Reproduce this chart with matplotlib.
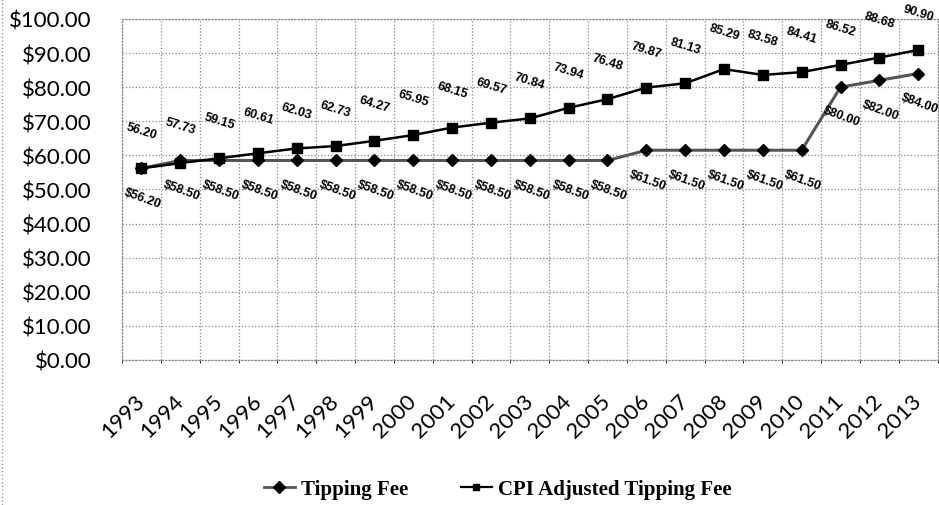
import matplotlib
matplotlib.use("Agg")
import matplotlib.pyplot as plt
from matplotlib.lines import Line2D

years = [str(y) for y in range(1993, 2014)]
tipping_fee = [56.20, 58.50, 58.50, 58.50, 58.50, 58.50, 58.50, 58.50, 58.50, 58.50,
               58.50, 58.50, 58.50, 61.50, 61.50, 61.50, 61.50, 61.50, 80.00, 82.00, 84.00]
cpi_adjusted = [56.20, 57.73, 59.15, 60.61, 62.03, 62.73, 64.27, 65.95, 68.15, 69.57,
                70.84, 73.94, 76.48, 79.87, 81.13, 85.29, 83.58, 84.41, 86.52, 88.68, 90.90]
y_ticks = list(range(0, 101, 10))

fig = plt.figure(figsize=(9.39, 5.06), dpi=100)
ax = fig.add_axes([0.130, 0.2866, 0.8685, 0.674])

x = list(range(len(years)))
ax.plot(x, tipping_fee, color="#555555", lw=2.2, marker="D", ms=6.5,
        mfc="black", mec="black", label="Tipping Fee", zorder=3)
ax.plot(x, cpi_adjusted, color="black", lw=1.8, marker="s", ms=6.5,
        mfc="black", mec="black", label="CPI Adjusted Tipping Fee", zorder=4)

for xi, v in zip(x, cpi_adjusted):
    ax.annotate(f"{v:.2f}", (xi, v), xytext=(0, 27), textcoords="offset points",
                ha="center", va="center", rotation=-17, fontsize=9, fontweight="bold",
                family="Liberation Sans", color="black")
for xi, v in zip(x, tipping_fee):
    ax.annotate(f"${v:.2f}", (xi, v), xytext=(1, -21), textcoords="offset points",
                ha="center", va="center", rotation=-20, fontsize=9, fontweight="bold",
                family="Liberation Sans", color="black")

ax.set_xlim(-0.5, len(years) - 0.5)
ax.set_ylim(0, 100)
ax.set_yticks(y_ticks)
ax.set_yticklabels([f"${v:.2f}" for v in y_ticks], family="Lato", fontsize=16)
ax.set_xticks(x)
ax.set_xticklabels(years, rotation=45, ha="right", va="center",
                   rotation_mode="anchor", family="Lato", fontsize=16)
ax.tick_params(axis="y", length=0, pad=22)
ax.tick_params(axis="x", length=0, pad=27)

ax.set_xticks([i - 0.5 for i in range(len(years) + 1)], minor=True)
ax.grid(False)
ax.grid(axis="x", which="minor", color="#888888", ls=":", lw=0.9)
ax.grid(axis="y", which="major", color="#888888", ls=":", lw=0.9)
for s in ax.spines.values():
    s.set_color("#888888")
    s.set_linestyle(":")
    s.set_linewidth(0.9)

handles = [Line2D([], [], color="#555555", lw=2, marker="D", ms=6, mfc="black", mec="black"),
           Line2D([], [], color="black", lw=1.6, marker="s", ms=5, mfc="black", mec="black")]
fig.legend(handles, ["Tipping Fee", "CPI Adjusted Tipping Fee"], loc="center",
           bbox_to_anchor=(0.53, 0.032), ncol=2, frameon=False, handlelength=1.5,
           handletextpad=0.3, columnspacing=2.5,
           prop={"family": "Liberation Serif", "weight": "bold", "size": 15})

fig.add_artist(Line2D([0.002, 0.002], [0, 1], transform=fig.transFigure,
                      color="#999999", ls=":", lw=1))

fig.savefig("out.png", dpi=100)
